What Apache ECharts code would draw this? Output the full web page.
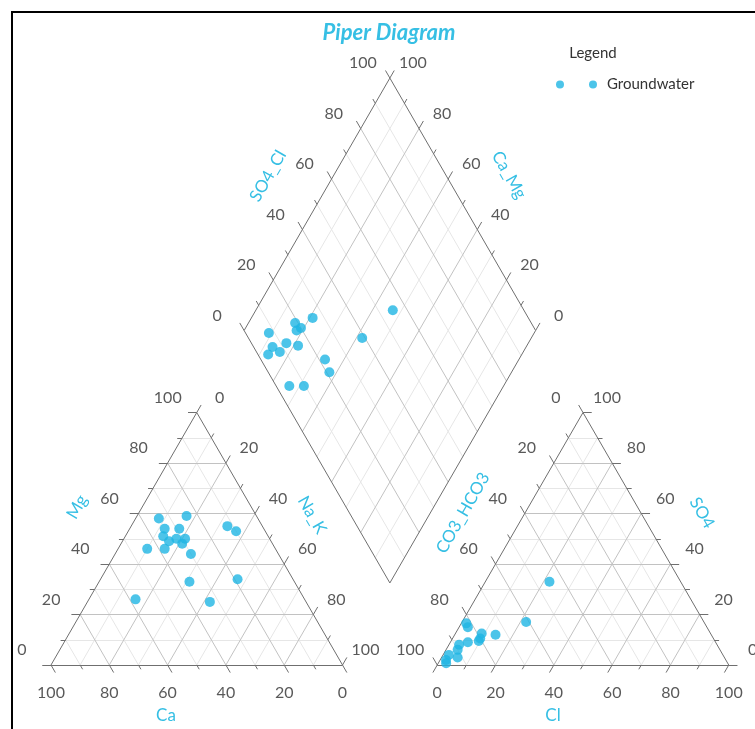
<!DOCTYPE html>
<html>
<head>
<meta charset="utf-8">
<script src="https://cdn.jsdelivr.net/npm/echarts@6/dist/echarts.min.js"></script>
<style>
html, body { margin: 0; padding: 0; background: #fff; }
#chart { width: 755px; height: 729px; }
</style>
</head>
<body>
<div id="chart"></div>
<script>
// cation triangle (% meq)
var catMg  = [59, 58, 54, 54, 55, 53, 51, 49, 50, 50, 48, 46, 46, 44, 33, 34, 26, 25];
var catNaK = [17,  8, 12, 17, 33, 37, 13, 16, 18, 21, 21, 10, 16, 26, 31, 47, 16, 42];
// anion triangle (% meq)
var anSO4 = [33, 17, 16.5, 15, 12.5, 12, 9.5, 10.5, 9, 8, 6, 3, 4, 2, 0.7];
var anCl  = [22, 22, 1.7,  3,  9,   14, 9.5, 9.5,  6, 3.5, 4, 5.5, 2, 2, 2.7];
// diamond
var dSO4Cl = [55, 26, 19, 18, 20, 8, 39, 6.5, 12, 15.5, 3.5, 8, 22, 21, 4.5, 9.5];
var dCaMg  = [53, 79, 84, 82, 81, 91, 58, 87, 83, 78.5, 87, 83.5, 66.5, 62.5, 73.5, 68.5];
var tickLabels = [0, 20, 40, 60, 80, 100];

var H = Math.sqrt(3) / 2;
var GAP = 32.5;          // space between the two triangles
var K = 2.915;           // px per unit
var OX = 51, OY = 665;   // px of the cation triangle's left corner
var LEFT = [0, 0];
var RIGHT = [100 + GAP, 0];
var BOT = [100 + GAP / 2, GAP / 2 * Math.sqrt(3)];

function tern(o, a, t) { return [o[0] + a + t / 2, o[1] + t * H]; }
function dia(s, c) { return [BOT[0] + (s - c) / 2, BOT[1] + (s + c) * H]; }

var outline = [], major = [], minor = [], ticks = [], labels = [];
function seg(list, p, q) { list.push({coords: [p, q]}); }
function tick(p, d, v) {
    var len = v % 20 ? 1.7 : 3;
    ticks.push({coords: [p, [p[0] + d[0] * len, p[1] + d[1] * len]]});
}
function lab(p, v, off) {
    labels.push({name: String(v), value: p, label: {offset: off}});
}

function triangle(o) {
    seg(outline, tern(o, 0, 0), tern(o, 100, 0));
    seg(outline, tern(o, 100, 0), tern(o, 0, 100));
    seg(outline, tern(o, 0, 100), tern(o, 0, 0));
    for (var v = 10; v < 100; v += 10) {
        var L = v % 20 ? minor : major;
        seg(L, tern(o, 0, v), tern(o, 100 - v, v));
        seg(L, tern(o, v, 0), tern(o, v, 100 - v));
        seg(L, tern(o, 100 - v, 0), tern(o, 0, 100 - v));
    }
}
triangle(LEFT);
triangle(RIGHT);

seg(outline, dia(0, 0), dia(100, 0));
seg(outline, dia(100, 0), dia(100, 100));
seg(outline, dia(100, 100), dia(0, 100));
seg(outline, dia(0, 100), dia(0, 0));
for (var v = 10; v < 100; v += 10) {
    var L = v % 20 ? minor : major;
    seg(L, dia(v, 0), dia(v, 100));
    seg(L, dia(0, v), dia(100, v));
}

for (var v = 0; v <= 100; v += 10) {
    // cations
    tick(tern(LEFT, 0, v), [-1, 0], v);
    tick(tern(LEFT, v, 100 - v), [0.5, H], v);
    tick(tern(LEFT, 100 - v, 0), [0.5, -H], v);
    // anions
    tick(tern(RIGHT, 100 - v, v), [1, 0], v);
    tick(tern(RIGHT, v, 0), [-0.5, -H], v);
    tick(tern(RIGHT, 0, 100 - v), [-0.5, H], v);
    // diamond
    tick(dia(v, 100), [-0.5, H], v);
    tick(dia(100, v), [0.5, H], v);
}

tickLabels.forEach(function (v) {
    lab(tern(LEFT, 0, v), v, [-29, -15]);          // Mg
    lab(tern(LEFT, v, 100 - v), v, [23, -15]);     // Na_K
    lab(tern(LEFT, 100 - v, 0), v, [0, 28]);       // Ca
    lab(tern(RIGHT, 0, 100 - v), v, [-27, -15]);   // CO3_HCO3
    lab(tern(RIGHT, 100 - v, v), v, [24, -15]);    // SO4
    lab(tern(RIGHT, v, 0), v, [0, 28]);            // Cl
    lab(dia(v, 100), v, [-27, -15]);               // SO4_Cl
    lab(dia(100, v), v, [23, -15]);                // Ca_Mg
});

var points = [];
catMg.forEach(function (m, i) { points.push(tern(LEFT, catNaK[i], m)); });
anSO4.forEach(function (s, i) { points.push(tern(RIGHT, anCl[i], s)); });
dSO4Cl.forEach(function (s, i) { points.push(dia(s, dCaMg[i])); });

var FONT = 'Lato, "Open Sans", sans-serif';
var CYAN = '#36bfe4';
function title(text, x, y, deg) {
    return {
        type: 'text', x: x, y: y, rotation: deg * Math.PI / 180,
        style: {text: text, fill: CYAN, font: '17px ' + FONT, align: 'center', verticalAlign: 'middle'}
    };
}

var myChart = echarts.init(document.getElementById('chart'));
var option = {
    animation: false,
    grid: {left: 0, right: 0, top: 0, bottom: 0},
    xAxis: {type: 'value', min: -OX / K, max: (755 - OX) / K, show: false},
    yAxis: {type: 'value', min: (OY - 729) / K, max: OY / K, show: false},
    legend: {
        data: ['Groundwater'],
        left: 551, top: 72,
        icon: 'path://M0,4a4,4 0 1,0 8,0a4,4 0 1,0 -8,0M33,4a4,4 0 1,0 8,0a4,4 0 1,0 -8,0',
        itemWidth: 41, itemHeight: 8,
        textStyle: {fontFamily: FONT, fontSize: 15, color: '#333', padding: [0, 0, 0, 5]}
    },
    graphic: [
        {type: 'rect', shape: {x: 12, y: 12, width: 800, height: 800},
         style: {fill: 'none', stroke: '#000', lineWidth: 2}},
        {type: 'text', x: 389, y: 33,
         style: {text: 'Piper Diagram', fill: CYAN, font: 'italic bold 22px ' + FONT, align: 'center', verticalAlign: 'middle'}},
        {type: 'text', x: 593, y: 53,
         style: {text: 'Legend', fill: '#333', font: '15px ' + FONT, align: 'center', verticalAlign: 'middle'}},
        title('Mg', 77, 507, 60),
        title('Na_K', 312, 515, -60),
        title('Ca', 166, 716, 0),
        title('CO3_HCO3', 463, 513, 60),
        title('SO4', 702, 513, -60),
        title('Cl', 553, 716, 0),
        title('SO4_Cl', 268, 176, 60),
        title('Ca_Mg', 509, 175, -60)
    ],
    series: [
        {type: 'lines', coordinateSystem: 'cartesian2d', silent: true, z: 1,
         lineStyle: {color: '#e6e6e6', width: 1, opacity: 1}, data: minor},
        {type: 'lines', coordinateSystem: 'cartesian2d', silent: true, z: 2,
         lineStyle: {color: '#c2c2c2', width: 1, opacity: 1}, data: major},
        {type: 'lines', coordinateSystem: 'cartesian2d', silent: true, z: 3,
         lineStyle: {color: '#6f6f6f', width: 1, opacity: 1}, data: outline.concat(ticks)},
        {type: 'scatter', silent: true, z: 4, symbolSize: 1,
         itemStyle: {color: 'transparent'},
         label: {show: true, position: 'inside', formatter: '{b}',
                 fontFamily: FONT, fontSize: 16, color: '#2f2f2f'},
         data: labels},
        {name: 'Groundwater', type: 'scatter', z: 5, symbolSize: 10,
         itemStyle: {color: '#1fb5e3'}, data: points}
    ]
};
myChart.setOption(option);
</script>
</body>
</html>
